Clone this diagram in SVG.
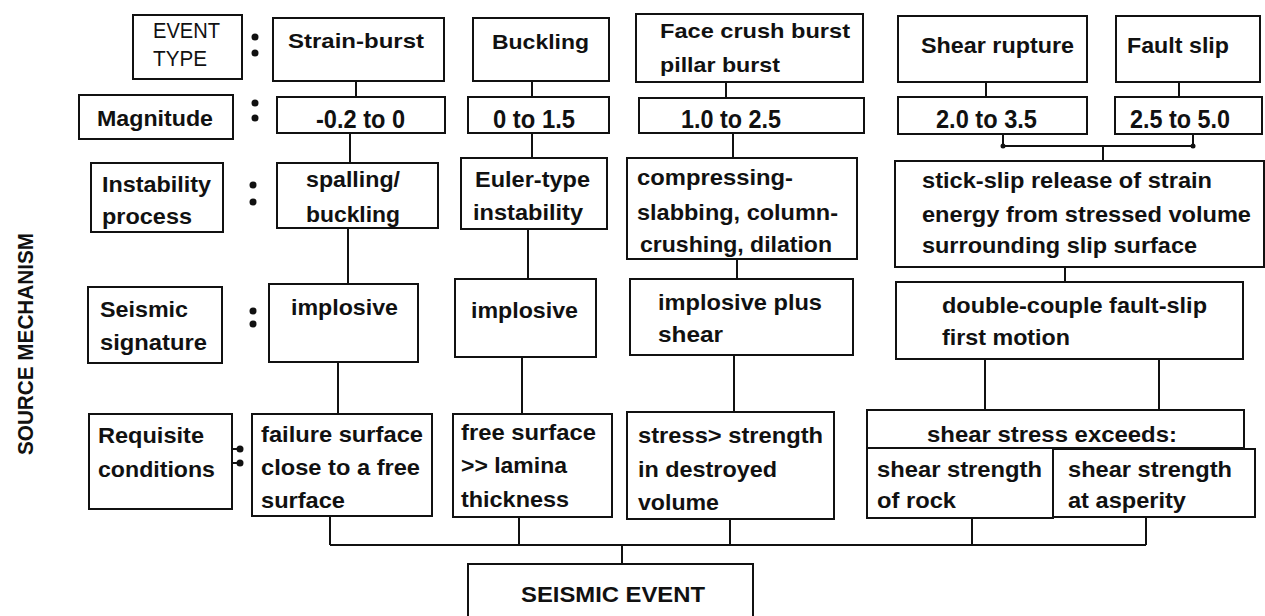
<svg xmlns="http://www.w3.org/2000/svg" width="1265" height="616" viewBox="0 0 1265 616">
<style>
.b{fill:#fff;stroke:#111;stroke-width:2}
.t{font-family:"Liberation Sans",Arial,sans-serif;font-weight:bold;font-size:22px;fill:#111}
.h{font-size:21px}
.m{font-size:26px}
.n{font-weight:normal}
.c{fill:none;stroke:#111;stroke-width:2}
.d{fill:#111}
</style>
<rect width="1265" height="616" fill="#fff"/>
<text class="t" transform="translate(33,455) rotate(-90)" x="0" y="0" font-size="25" textLength="222" lengthAdjust="spacingAndGlyphs">SOURCE MECHANISM</text>
<g id="connectors">
<path class="c" d="M356 81V97M350 133V163M348 228V284M338 362V414M330 516V545"/>
<path class="c" d="M532 81V97M532 133V158M528 229V279M522 357V414M519 517V545"/>
<path class="c" d="M726 82V98M733 133V158M737 259V279M734 355V412M730 519V545"/>
<path class="c" d="M986 82V97M1179 82V97M1003 134V146H1193V134M1103 146V161M1065 267V282M985 359V410M1159 359V410M972 518V545M1146 517V545"/>
<path class="c" d="M330 545H1146M622 545V564"/>
<circle class="d" cx="1003" cy="146" r="2.5"/>
<circle class="d" cx="1193" cy="146" r="2.5"/>
</g>
<g id="colons">
<circle class="d" cx="255" cy="37" r="3.5"/><circle class="d" cx="255" cy="53" r="3.5"/>
<circle class="d" cx="255" cy="103" r="3.5"/><circle class="d" cx="255" cy="118" r="3.5"/>
<circle class="d" cx="253" cy="185" r="3.5"/><circle class="d" cx="253" cy="202" r="3.5"/>
<circle class="d" cx="253" cy="311" r="3.5"/><circle class="d" cx="253" cy="324" r="3.5"/>
<path class="c" d="M233 449H240M233 463H240"/>
<circle class="d" cx="240" cy="449" r="3.5"/><circle class="d" cx="240" cy="463" r="3.5"/>
</g>
<g id="lbl-event-type"><rect class="b" x="133" y="15" width="109" height="64"/>
<text class="t n" x="153" y="38" font-size="21" textLength="67" lengthAdjust="spacingAndGlyphs">EVENT</text>
<text class="t n" x="153" y="66" font-size="21" textLength="54" lengthAdjust="spacingAndGlyphs">TYPE</text></g>
<g id="lbl-magnitude"><rect class="b" x="79" y="95" width="154" height="44"/>
<text class="t" x="97" y="126" font-size="25" textLength="116" lengthAdjust="spacingAndGlyphs">Magnitude</text></g>
<g id="lbl-instability"><rect class="b" x="91" y="163" width="132" height="69"/>
<text class="t" x="102" y="192" textLength="109" lengthAdjust="spacingAndGlyphs">Instability</text>
<text class="t" x="102" y="224" textLength="90" lengthAdjust="spacingAndGlyphs">process</text></g>
<g id="lbl-seismic"><rect class="b" x="88" y="287" width="134" height="76"/>
<text class="t" x="100" y="317" textLength="88" lengthAdjust="spacingAndGlyphs">Seismic</text>
<text class="t" x="100" y="350" textLength="107" lengthAdjust="spacingAndGlyphs">signature</text></g>
<g id="lbl-requisite"><rect class="b" x="89" y="414" width="143" height="95"/>
<text class="t" x="98" y="443" textLength="106" lengthAdjust="spacingAndGlyphs">Requisite</text>
<text class="t" x="98" y="477" textLength="117" lengthAdjust="spacingAndGlyphs">conditions</text></g>

<g id="strain-burst"><rect class="b" x="273" y="18" width="171" height="63"/>
<text class="t h" x="288" y="48" textLength="136" lengthAdjust="spacingAndGlyphs">Strain-burst</text></g>
<g id="buckling"><rect class="b" x="473" y="18" width="136" height="63"/>
<text class="t h" x="492" y="49" textLength="97" lengthAdjust="spacingAndGlyphs">Buckling</text></g>
<g id="face-crush"><rect class="b" x="636" y="14" width="227" height="68"/>
<text class="t h" x="660" y="38" textLength="190" lengthAdjust="spacingAndGlyphs">Face crush burst</text>
<text class="t h" x="660" y="72" textLength="120" lengthAdjust="spacingAndGlyphs">pillar burst</text></g>
<g id="shear-rupture"><rect class="b" x="898" y="16" width="189" height="66"/>
<text class="t" x="921" y="53" textLength="153" lengthAdjust="spacingAndGlyphs">Shear rupture</text></g>
<g id="fault-slip"><rect class="b" x="1116" y="16" width="144" height="66"/>
<text class="t" x="1127" y="53" textLength="102" lengthAdjust="spacingAndGlyphs">Fault slip</text></g>

<g id="mag-1"><rect class="b" x="277" y="97" width="168" height="36"/>
<text class="t m" x="316" y="128" textLength="89" lengthAdjust="spacingAndGlyphs">-0.2 to 0</text></g>
<g id="mag-2"><rect class="b" x="468" y="97" width="141" height="36"/>
<text class="t m" x="493" y="128" textLength="82" lengthAdjust="spacingAndGlyphs">0 to 1.5</text></g>
<g id="mag-3"><rect class="b" x="639" y="98" width="225" height="35"/>
<text class="t m" x="681" y="128" textLength="100" lengthAdjust="spacingAndGlyphs">1.0 to 2.5</text></g>
<g id="mag-4"><rect class="b" x="898" y="97" width="189" height="37"/>
<text class="t m" x="936" y="128" textLength="101" lengthAdjust="spacingAndGlyphs">2.0 to 3.5</text></g>
<g id="mag-5"><rect class="b" x="1115" y="97" width="147" height="37"/>
<text class="t m" x="1130" y="128" textLength="100" lengthAdjust="spacingAndGlyphs">2.5 to 5.0</text></g>

<g id="spalling"><rect class="b" x="277" y="163" width="161" height="65"/>
<text class="t" x="306" y="187" textLength="94" lengthAdjust="spacingAndGlyphs">spalling/</text>
<text class="t" x="306" y="222" textLength="94" lengthAdjust="spacingAndGlyphs">buckling</text></g>
<g id="euler"><rect class="b" x="461" y="158" width="146" height="71"/>
<text class="t" x="475" y="187" textLength="115" lengthAdjust="spacingAndGlyphs">Euler-type</text>
<text class="t" x="473" y="220" textLength="110" lengthAdjust="spacingAndGlyphs">instability</text></g>
<g id="compressing"><rect class="b" x="627" y="158" width="230" height="101"/>
<text class="t" x="637" y="185" textLength="156" lengthAdjust="spacingAndGlyphs">compressing-</text>
<text class="t" x="637" y="220" textLength="201" lengthAdjust="spacingAndGlyphs">slabbing, column-</text>
<text class="t" x="640" y="252" textLength="192" lengthAdjust="spacingAndGlyphs">crushing, dilation</text></g>
<g id="stick-slip"><rect class="b" x="895" y="161" width="369" height="106"/>
<text class="t" x="922" y="188" textLength="290" lengthAdjust="spacingAndGlyphs">stick-slip release of strain</text>
<text class="t" x="922" y="222" textLength="329" lengthAdjust="spacingAndGlyphs">energy from stressed volume</text>
<text class="t" x="922" y="253" textLength="275" lengthAdjust="spacingAndGlyphs">surrounding slip surface</text></g>

<g id="implosive-1"><rect class="b" x="269" y="284" width="149" height="78"/>
<text class="t" x="291" y="315" textLength="107" lengthAdjust="spacingAndGlyphs">implosive</text></g>
<g id="implosive-2"><rect class="b" x="455" y="279" width="141" height="78"/>
<text class="t" x="471" y="318" textLength="107" lengthAdjust="spacingAndGlyphs">implosive</text></g>
<g id="implosive-shear"><rect class="b" x="630" y="279" width="223" height="76"/>
<text class="t" x="658" y="310" textLength="164" lengthAdjust="spacingAndGlyphs">implosive plus</text>
<text class="t" x="658" y="342" textLength="65" lengthAdjust="spacingAndGlyphs">shear</text></g>
<g id="double-couple"><rect class="b" x="896" y="282" width="347" height="77"/>
<text class="t" x="942" y="313" textLength="265" lengthAdjust="spacingAndGlyphs">double-couple fault-slip</text>
<text class="t" x="942" y="345" textLength="128" lengthAdjust="spacingAndGlyphs">first motion</text></g>

<g id="failure-surface"><rect class="b" x="252" y="414" width="180" height="102"/>
<text class="t" x="261" y="442" textLength="162" lengthAdjust="spacingAndGlyphs">failure surface</text>
<text class="t" x="261" y="475" textLength="159" lengthAdjust="spacingAndGlyphs">close to a free</text>
<text class="t" x="261" y="508" textLength="84" lengthAdjust="spacingAndGlyphs">surface</text></g>
<g id="free-surface"><rect class="b" x="453" y="414" width="159" height="103"/>
<text class="t" x="461" y="440" textLength="135" lengthAdjust="spacingAndGlyphs">free surface</text>
<text class="t" x="461" y="473" textLength="106" lengthAdjust="spacingAndGlyphs">&gt;&gt; lamina</text>
<text class="t" x="461" y="507" textLength="108" lengthAdjust="spacingAndGlyphs">thickness</text></g>
<g id="stress-strength"><rect class="b" x="627" y="412" width="207" height="107"/>
<text class="t" x="638" y="443" textLength="185" lengthAdjust="spacingAndGlyphs">stress&gt; strength</text>
<text class="t" x="638" y="477" textLength="139" lengthAdjust="spacingAndGlyphs">in destroyed</text>
<text class="t" x="638" y="510" textLength="81" lengthAdjust="spacingAndGlyphs">volume</text></g>
<g id="shear-stress"><rect class="b" x="867" y="410" width="377" height="38"/>
<text class="t" x="927" y="442" textLength="250" lengthAdjust="spacingAndGlyphs">shear stress exceeds:</text></g>
<g id="strength-rock"><rect class="b" x="867" y="448" width="186" height="70"/>
<text class="t" x="877" y="477" textLength="165" lengthAdjust="spacingAndGlyphs">shear strength</text>
<text class="t" x="877" y="508" textLength="79" lengthAdjust="spacingAndGlyphs">of rock</text></g>
<g id="strength-asperity"><rect class="b" x="1053" y="449" width="202" height="68"/>
<text class="t" x="1068" y="477" textLength="164" lengthAdjust="spacingAndGlyphs">shear strength</text>
<text class="t" x="1068" y="508" textLength="118" lengthAdjust="spacingAndGlyphs">at asperity</text></g>
<g id="seismic-event"><rect class="b" x="468" y="564" width="285" height="60" stroke-width="3"/>
<text class="t" x="521" y="602" font-size="24" textLength="184" lengthAdjust="spacingAndGlyphs">SEISMIC EVENT</text></g>
</svg>
